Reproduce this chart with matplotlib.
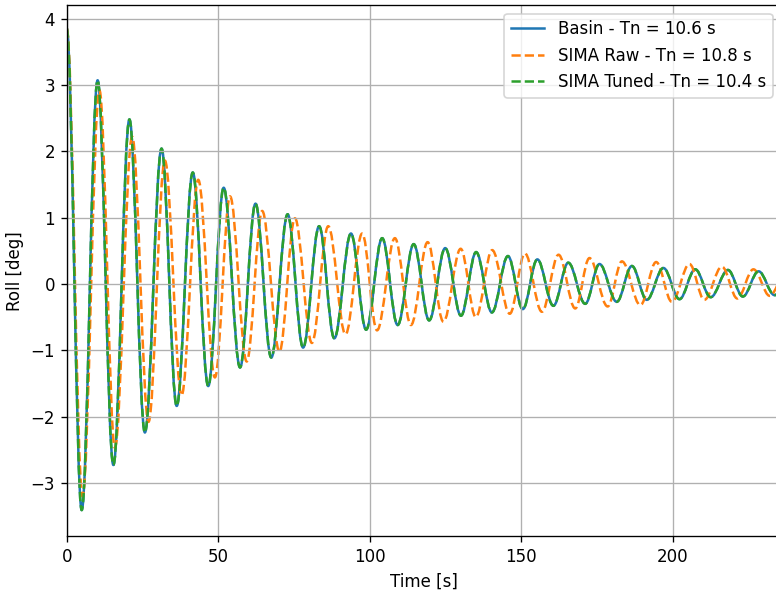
import numpy as np
import matplotlib
matplotlib.use("Agg")
import matplotlib.pyplot as plt
from matplotlib.path import Path
from matplotlib.patches import PathPatch

# roll decay extrema (time [s], roll [deg])
basin_t = [0.0, 4.95, 10.2, 15.4, 20.7, 25.8, 31.3, 36.3, 41.6, 46.7, 51.8, 57.2,
           62.3, 67.5, 72.9, 78.0, 83.3, 88.3, 93.8, 98.8, 104.1, 109.2, 114.5, 119.6,
           124.9, 130.1, 135.1, 140.3, 145.6, 150.5, 155.3, 160.6, 165.5, 171.1, 175.8,
           181.5, 186.5, 191.4, 196.9, 202.2, 207.4, 212.5, 218.2, 223.1, 228.3, 233.6, 238.8]
basin_y = [3.85, -3.41, 3.07, -2.73, 2.48, -2.24, 2.04, -1.84, 1.68, -1.54, 1.45, -1.26,
           1.21, -1.11, 1.05, -0.96, 0.87, -0.82, 0.76, -0.69, 0.69, -0.62, 0.60, -0.55,
           0.54, -0.48, 0.48, -0.43, 0.42, -0.38, 0.37, -0.33, 0.32, -0.30, 0.30,
           -0.27, 0.27, -0.24, 0.24, -0.23, 0.22, -0.20, 0.21, -0.19, 0.19, -0.17, 0.17]

raw_t = [0.0, 5.2, 10.8, 15.9, 21.6, 27.0, 32.4, 37.9, 43.4, 48.9, 53.9, 59.4,
         64.5, 70.2, 75.3, 80.9, 86.3, 92.0, 97.5, 102.4, 108.3, 113.6, 119.1, 124.3,
         130.0, 135.0, 140.4, 146.2, 151.2, 156.8, 162.3, 167.8, 172.5, 178.5, 183.2,
         189.3, 194.5, 199.7, 205.5, 210.4, 216.2, 221.3, 226.6, 232.0, 237.3]
raw_y = [3.85, -3.20, 2.92, -2.47, 2.22, -2.08, 1.86, -1.68, 1.57, -1.41, 1.32, -1.17,
         1.10, -1.02, 0.99, -0.89, 0.87, -0.76, 0.76, -0.70, 0.69, -0.62, 0.63, -0.57,
         0.53, -0.50, 0.51, -0.45, 0.46, -0.42, 0.44, -0.37, 0.39, -0.34, 0.34,
         -0.32, 0.33, -0.27, 0.30, -0.24, 0.26, -0.22, 0.22, -0.18, 0.18]

tuned_t = basin_t
tuned_y = basin_y

labels = ["Basin - Tn = 10.6 s", "SIMA Raw - Tn = 10.8 s", "SIMA Tuned - Tn = 10.4 s"]


def wave_path(t, y):
    # half-cosine-like cubic bezier between consecutive extrema
    k = 1 - 2 / np.pi
    verts = [(t[0], y[0])]
    codes = [Path.MOVETO]
    for i in range(1, len(t)):
        dt = t[i] - t[i - 1]
        verts += [(t[i - 1] + k * dt, y[i - 1]), (t[i] - k * dt, y[i]), (t[i], y[i])]
        codes += [Path.CURVE4] * 3
    return Path(verts, codes)


fig = plt.figure(figsize=(776 / 120, 594 / 120), dpi=120)
ax = fig.add_axes([66.7 / 776, 58 / 594, (781 - 66.7) / 776, (536 - 5.3) / 594])

series = [(basin_t, basin_y, "C0", "-"),
          (raw_t, raw_y, "C1", "--"),
          (tuned_t, tuned_y, "C2", "--")]
for (t, y, c, ls), lab in zip(series, labels):
    ax.add_patch(PathPatch(wave_path(t, y), fill=False, edgecolor=c, lw=1.5,
                           linestyle=ls, joinstyle="round"))
    ax.plot([], [], color=c, linestyle=ls, lw=1.5, label=lab)

ax.set_xlim(0, 235.7)
ax.set_ylim(-3.8, 4.2)
ax.set_xlabel("Time [s]")
ax.set_ylabel("Roll [deg]")
ax.grid(True)
ax.legend(loc="upper right")

fig.savefig("out.png", dpi=120)
